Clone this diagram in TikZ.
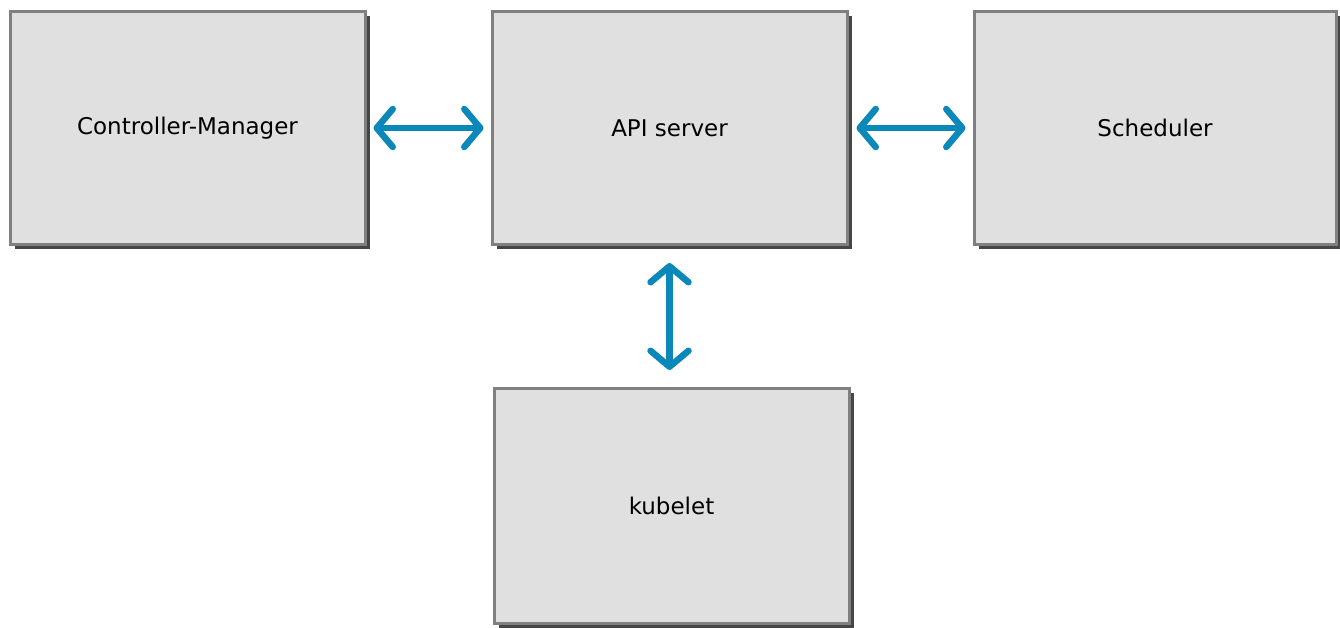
\documentclass[tikz,border=0pt]{standalone}
\usepackage{fontspec}
\setmainfont{DejaVu Sans}
\usetikzlibrary{positioning,shadows,arrows.meta}
\definecolor{boxfill}{HTML}{E0E0E0}
\definecolor{boxline}{HTML}{808080}
\definecolor{linkblue}{HTML}{0A88BA}

\begin{document}
\begin{tikzpicture}[x=1pt,y=1pt,
    comp/.style = {draw=boxline, fill=boxfill, line width=3pt, minimum width=355pt, minimum height=233pt,
                   font=\fontsize{23}{27}\selectfont,
                   drop shadow={shadow xshift=4.5pt, shadow yshift=-4.5pt, opacity=0.85, fill=black!85}},
    link/.style = {{Straight Barb[round,length=16pt,width=38pt]}-{Straight Barb[round,length=16pt,width=38pt]},
                   draw=linkblue, line width=6.5pt, line cap=round}]
    \useasboundingbox (0,0) rectangle (1340,-627);
    \node[comp] (cm) at (187.5,-128) {Controller-Manager};
    \node[comp] (api) [right=124pt of cm] {API server};
    \node[comp, minimum width=362pt] (sched) [right=124pt of api] {Scheduler};
    \node[comp, minimum height=235pt] (kube) [below=141pt of api, xshift=2pt] {kubelet};
    \draw[link, shorten <=7pt, shorten >=7pt] (cm) -- (api);
    \draw[link, shorten <=8pt, shorten >=7pt] (api) -- (sched);
    \draw[link, shorten <=17pt, shorten >=17pt] (api.south) -- (api.south |- kube.north);
\end{tikzpicture}
\end{document}
